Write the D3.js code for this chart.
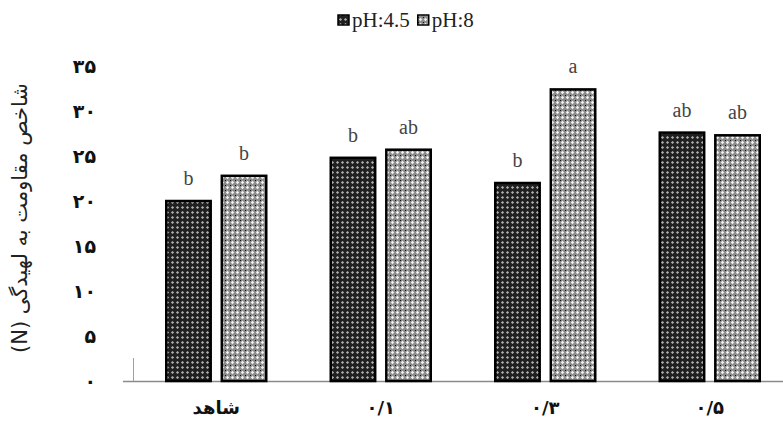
<!DOCTYPE html>
<html>
<head>
<meta charset="utf-8">
<script src="https://cdn.jsdelivr.net/npm/d3@7"></script>
<style>
  body{margin:0;background:#fff;}
  svg{display:block;}
</style>
</head>
<body>
<div id="chart"></div>
<script>
const categories=['شاهد','۰/۱','۰/۳','۰/۵'];
const seriesNames=['pH:4.5','pH:8'];
const ph45=[20.0,24.8,22.0,27.6];
const ph8=[22.8,25.7,32.4,27.3];
const letters45=['b','b','b','ab'];
const letters8=['b','ab','a','ab'];
const yTicks=[0,5,10,15,20,25,30,35];
const yTickLabels=['۰','۵','۱۰','۱۵','۲۰','۲۵','۳۰','۳۵'];
const yTitle='شاخص مقاومت به لهیدگی (N)';

const W=783,H=421;
const svg=d3.select('#chart').append('svg').attr('width',W).attr('height',H);
const defs=svg.append('defs');
const serif="'Liberation Serif','Times New Roman',serif";

// dark crosshatch
const pd=defs.append('pattern').attr('id','pDark').attr('patternUnits','userSpaceOnUse').attr('width',5).attr('height',5);
pd.append('rect').attr('width',5).attr('height',5).attr('fill','#202020');
pd.append('path').attr('d','M2.5,0.9 L4.1,2.5 L2.5,4.1 L0.9,2.5Z').attr('fill','#b0b0b0');
// light dotted
const pl=defs.append('pattern').attr('id','pLight').attr('patternUnits','userSpaceOnUse').attr('width',5).attr('height',5);
pl.append('rect').attr('width',5).attr('height',5).attr('fill','#8c8c8c');
pl.append('path').attr('d','M2.5,0.8 L4.2,2.5 L2.5,4.2 L0.8,2.5Z').attr('fill','#f2f2f2');
pl.append('rect').attr('x',0).attr('y',0).attr('width',1).attr('height',1).attr('fill','#111');

const x=d3.scaleBand().domain(categories).range([134,792]);
const xs=d3.scaleBand().domain(seriesNames).range([x.bandwidth()/2-50,x.bandwidth()/2+50]).paddingInner(0.2);
const y=d3.scaleLinear().domain([0,35]).range([381,66]);
const fills=['url(#pDark)','url(#pLight)'];
const vals=[ph45,ph8];
const lets=[letters45,letters8];

// baseline
svg.append('line').attr('x1',123).attr('x2',783).attr('y1',y(0)+0.5).attr('y2',y(0)+0.5).attr('stroke','#8a8a8a').attr('stroke-width',1.5);
svg.append('line').attr('x1',133.5).attr('x2',133.5).attr('y1',358).attr('y2',y(0)).attr('stroke','#a0a0a0').attr('stroke-width',1);

// y ticks
const yAxis=svg.append('g').attr('transform','translate(96,0)')
  .call(d3.axisLeft(y).tickValues(yTicks).tickSize(0).tickPadding(0).tickFormat((d,i)=>yTickLabels[i]));
yAxis.select('.domain').remove();
yAxis.selectAll('text').attr('font-family','DejaVu Sans').attr('font-weight','bold').attr('font-size',19).attr('fill','#111');

// bars
seriesNames.forEach((s,si)=>{
  svg.append('g').selectAll('rect').data(categories).join('rect')
    .attr('x',d=>x(d)+xs(s)).attr('width',xs.bandwidth())
    .attr('y',(d,i)=>y(vals[si][i])).attr('height',(d,i)=>y(0)-y(vals[si][i]))
    .attr('fill',fills[si]).attr('stroke','#000').attr('stroke-width',2.5);
  svg.append('g').selectAll('text').data(categories).join('text')
    .attr('x',d=>x(d)+xs(s)+xs.bandwidth()/2).attr('y',(d,i)=>y(vals[si][i])-16)
    .attr('text-anchor','middle').attr('font-family',serif).attr('font-size',20).attr('fill','#444')
    .text((d,i)=>lets[si][i]);
});

// x labels
const xAxis=svg.append('g').attr('transform',`translate(0,${y(0)})`)
  .call(d3.axisBottom(x).tickSize(0).tickPadding(20));
xAxis.select('.domain').remove();
xAxis.selectAll('text').attr('font-family','DejaVu Sans').attr('font-weight','bold').attr('font-size',18).attr('fill','#111').attr('direction','rtl');

// y title
svg.append('text').attr('transform','translate(27,218) rotate(-90)')
  .attr('text-anchor','middle').attr('direction','rtl').attr('font-family','DejaVu Sans').attr('font-size',21).attr('fill','#222')
  .text(yTitle);

// legend
const leg=svg.append('g').attr('transform','translate(338,12)');
let lx=0;
seriesNames.forEach((s,i)=>{
  leg.append('rect').attr('x',lx).attr('y',3).attr('width',11).attr('height',10).attr('fill',fills[i]).attr('stroke','#000').attr('stroke-width',1.5);
  const t=leg.append('text').attr('x',lx+14).attr('y',15).attr('font-family',serif).attr('font-size',21).attr('fill','#222').text(s);
  lx+=14+t.node().getComputedTextLength()+8;
});
</script>
</body>
</html>
